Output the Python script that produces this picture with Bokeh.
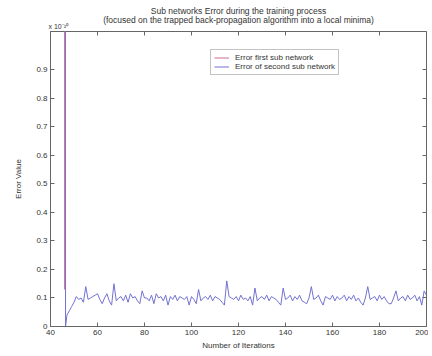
from bokeh.plotting import figure
from bokeh.models import Range1d, FixedTicker, LinearAxis, Title, Legend, LegendItem
from bokeh.embed import file_html
from bokeh.resources import INLINE

# ---- data ----
x_ticks = [40, 60, 80, 100, 120, 140, 160, 180, 200]
y_ticks = [0, 0.1, 0.2, 0.3, 0.4, 0.5, 0.6, 0.7, 0.8, 0.9]
y_tick_labels = ["0", "0.1", "0.2", "0.3", "0.4", "0.5", "0.6", "0.7", "0.8", "0.9"]

red_iter = [46, 46]
red_err = [12.0, 0.13]

blue_iter = [46, 46.4] + list(range(47, 201))
blue_err = [12.0, 0.0,
            0.04, 0.055, 0.07, 0.085, 0.105, 0.095, 0.10, 0.085, 0.14,
            0.095, 0.10, 0.105, 0.11, 0.115, 0.095, 0.08, 0.10, 0.115, 0.09,
            0.075, 0.15, 0.09, 0.10, 0.105, 0.09, 0.11, 0.085, 0.115, 0.10,
            0.105, 0.09, 0.08, 0.125, 0.10, 0.10, 0.09, 0.11, 0.08, 0.115,
            0.10, 0.105, 0.09, 0.11, 0.075, 0.105, 0.095, 0.11, 0.09, 0.105,
            0.10, 0.095, 0.105, 0.075, 0.105, 0.095, 0.08, 0.13, 0.09, 0.10,
            0.105, 0.095, 0.11, 0.09, 0.105, 0.10, 0.095, 0.085, 0.075, 0.16,
            0.105, 0.10, 0.095, 0.105, 0.09, 0.11, 0.095, 0.10, 0.09, 0.105,
            0.075, 0.135, 0.09, 0.10, 0.105, 0.095, 0.11, 0.09, 0.105, 0.10,
            0.095, 0.085, 0.075, 0.135, 0.095, 0.10, 0.11, 0.09, 0.105, 0.095,
            0.11, 0.09, 0.085, 0.08, 0.10, 0.14, 0.095, 0.10, 0.11, 0.09,
            0.075, 0.105, 0.10, 0.095, 0.11, 0.09, 0.105, 0.095, 0.10, 0.11,
            0.09, 0.105, 0.095, 0.11, 0.09, 0.10, 0.085, 0.075, 0.10, 0.14,
            0.095, 0.10, 0.105, 0.09, 0.11, 0.095, 0.105, 0.09, 0.08, 0.08,
            0.10, 0.125, 0.09, 0.10, 0.105, 0.09, 0.11, 0.095, 0.10, 0.11,
            0.09, 0.105, 0.075, 0.125, 0.11]

FONT = "Liberation Sans"
TXT = "#333333"
AX = "#666666"

p = figure(width=428, height=352, output_backend="svg", toolbar_location=None,
           x_range=Range1d(40, 200), y_range=Range1d(0, 1.035),
           min_border_left=50, min_border_right=2, min_border_top=31, min_border_bottom=26)
p.background_fill_color = "white"
p.border_fill_color = "white"
p.outline_line_color = AX
p.grid.visible = False

for ax in p.xaxis + p.yaxis:
    ax.major_tick_in = 4
    ax.major_tick_out = 0
    ax.minor_tick_in = 0
    ax.minor_tick_out = 0
    ax.axis_line_color = AX
    ax.major_tick_line_color = AX
    ax.major_label_text_font = FONT
    ax.major_label_text_font_size = "8px"
    ax.major_label_text_color = TXT
    ax.axis_label_text_font = FONT
    ax.axis_label_text_font_size = "8px"
    ax.axis_label_text_font_style = "normal"
    ax.axis_label_text_color = TXT
    ax.major_label_standoff = 3

p.xaxis.ticker = FixedTicker(ticks=x_ticks)
p.yaxis.ticker = FixedTicker(ticks=y_ticks)
p.yaxis.major_label_overrides = {t: s for t, s in zip(y_ticks, y_tick_labels)}
p.xaxis.axis_label = "Number of Iterations"
p.yaxis.axis_label = "Error Value"
p.xaxis.axis_label_standoff = 3
p.yaxis.axis_label_standoff = 10

top = LinearAxis(ticker=FixedTicker(ticks=x_ticks),
                 major_label_overrides={t: "" for t in x_ticks},
                 major_tick_in=4, major_tick_out=0, minor_tick_in=0, minor_tick_out=0,
                 axis_line_color=None, major_tick_line_color=AX, major_label_standoff=0)
right = LinearAxis(ticker=FixedTicker(ticks=y_ticks),
                   major_label_overrides={t: "" for t in y_ticks},
                   major_tick_in=4, major_tick_out=0, minor_tick_in=0, minor_tick_out=0,
                   axis_line_color=None, major_tick_line_color=AX, major_label_standoff=0)
p.add_layout(top, "above")
p.add_layout(right, "right")

# exponent row (closest to frame), then subtitle overlapping it, then main title
p.add_layout(Title(text="x 10\u207b\u00b2\u2070", align="left", text_font=FONT,
                   text_font_size="7px", text_font_style="normal", text_color=TXT,
                   standoff=3, offset=-2), "above")
p.add_layout(Title(text="(focused on the trapped back-propagation algorithm into a local minima)",
                   align="center", text_font=FONT, text_font_size="8.5px",
                   text_font_style="normal", text_color=TXT, standoff=-10), "above")
p.add_layout(Title(text="Sub networks Error during the training process",
                   align="center", text_font=FONT, text_font_size="8.5px",
                   text_font_style="normal", text_color=TXT, standoff=3), "above")

r_red = p.line(red_iter, red_err, line_color="#cc6a90", line_width=1)
r_blue = p.line(blue_iter, blue_err, line_color="#7272d2", line_width=1)
p.renderers.remove(r_red)
p.renderers.append(r_red)

legend = Legend(items=[LegendItem(label="Error first sub network", renderers=[r_red]),
                       LegendItem(label="Error of second sub network", renderers=[r_blue])],
                location=(160, 251), label_text_font=FONT, label_text_font_size="8px",
                label_text_color=TXT, glyph_width=15, glyph_height=9, label_height=9,
                spacing=0, padding=3, margin=0, border_line_color="#888888",
                label_standoff=6, background_fill_alpha=1)
p.add_layout(legend, "center")

open("out.html", "w").write(file_html(p, INLINE))
